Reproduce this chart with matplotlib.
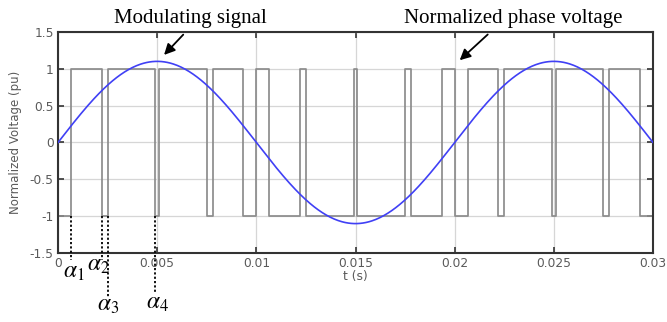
import numpy as np
import matplotlib.pyplot as plt

#==================== data
# switching angles (s) of the first quarter period
alphas = [0.00065, 0.0022, 0.0025, 0.0049]
alpha_names = [r'$\alpha_1$', r'$\alpha_2$', r'$\alpha_3$', r'$\alpha_4$']
f_mod = 50.0        # Hz
m_amp = 1.1         # pu, modulating signal amplitude
t_end = 0.03

xticks = [0, 0.005, 0.01, 0.015, 0.02, 0.025, 0.03]
xtick_labels = ['0', '0.005', '0.01', '0.015', '0.02', '0.025', '0.03']
yticks = [-1.5, -1, -0.5, 0, 0.5, 1, 1.5]
ytick_labels = ['-1.5', '-1', '-0.5', '0', '0.5', '1', '1.5']

#==================== positions of the labels (data units)
alpha_label_pos = [(0.00025, -1.83), (0.00146, -1.74), (0.00197, -2.28), (0.00444, -2.26)]
alpha_line_end = [-1.59, -1.59, -2.11, -2.04]


#====================================================================
def PhaseVoltage(alphas, T):
  # quarter- and half-wave symmetric bipolar waveform
  h = T/2.0
  edges = [0.0] + list(alphas) + [h - a for a in alphas[::-1]]
  lvl = []
  v = -1.0
  for k in range(len(edges)):
    lvl.append(v)
    v = -v
  half_t = edges + [h]
  t_all, v_all = [], []
  n_per = int(np.ceil(t_end/T)) + 1
  for p in range(n_per):
    for sgn, off in [(1.0, 0.0), (-1.0, h)]:
      for k in range(len(edges)):
        t0 = p*T + off + half_t[k]
        t1 = p*T + off + half_t[k+1]
        t_all += [t0, t1]
        v_all += [sgn*lvl[k], sgn*lvl[k]]
  return np.array(t_all), np.array(v_all)


T = 1.0/f_mod
t_pv, v_pv = PhaseVoltage(alphas, T)
t_mod = np.linspace(0, t_end, 600)
v_mod = m_amp*np.sin(2*np.pi*f_mod*t_mod)

fig = plt.figure(figsize=(6.67, 3.22), dpi=100)
ax = fig.add_axes([0.087, 0.214, 0.892, 0.687])

ax.plot(t_pv, v_pv, color='#8c8c8c', lw=1.25, zorder=2)
ax.plot(t_mod, v_mod, color='#4040f5', lw=1.2, zorder=3)

ax.set_xlim(0, t_end)
ax.set_ylim(-1.5, 1.5)
ax.set_xticks(xticks)
ax.set_xticklabels(xtick_labels)
ax.set_yticks(yticks)
ax.set_yticklabels(ytick_labels)
ax.tick_params(direction='in', top=True, right=True, length=4, width=1.2,
               labelsize=8.8, labelcolor='#5a5a5a', color='#333333', pad=3)
ax.grid(True, color='#d6d6d6', lw=0.9, zorder=0)
ax.set_axisbelow(True)
for s in ax.spines.values():
  s.set_linewidth(1.5)
  s.set_color('#333333')

ax.set_xlabel('t (s)', fontsize=8.8, color='#5a5a5a', labelpad=0)
ax.set_ylabel('Normalized Voltage (pu)', fontsize=8.5, color='#5a5a5a', labelpad=6)

#==================== annotations
serif = dict(family='Liberation Serif', fontsize=15, color='k')
ax.text(0.00667, 1.68, 'Modulating signal', ha='center', va='center', **serif)
ax.annotate('', xy=(0.00525, 1.16), xytext=(0.00641, 1.49),
            arrowprops=dict(arrowstyle='-|>', color='k', lw=1.3, mutation_scale=16),
            annotation_clip=False)
ax.text(0.02293, 1.68, 'Normalized phase voltage', ha='center', va='center', **serif)
ax.annotate('', xy=(0.02015, 1.09), xytext=(0.02177, 1.49),
            arrowprops=dict(arrowstyle='-|>', color='k', lw=1.3, mutation_scale=16),
            annotation_clip=False)

plt.rcParams['mathtext.fontset'] = 'stix'
for a, name, pos, yend in zip(alphas, alpha_names, alpha_label_pos, alpha_line_end):
  ax.plot([a, a], [-1, yend], color='k', lw=1.3, ls=(0, (1.2, 1.2)), clip_on=False, zorder=4)
  ax.text(pos[0], pos[1], name, fontsize=17, ha='left', va='baseline', color='k')

plt.savefig('out.png', dpi=100)
